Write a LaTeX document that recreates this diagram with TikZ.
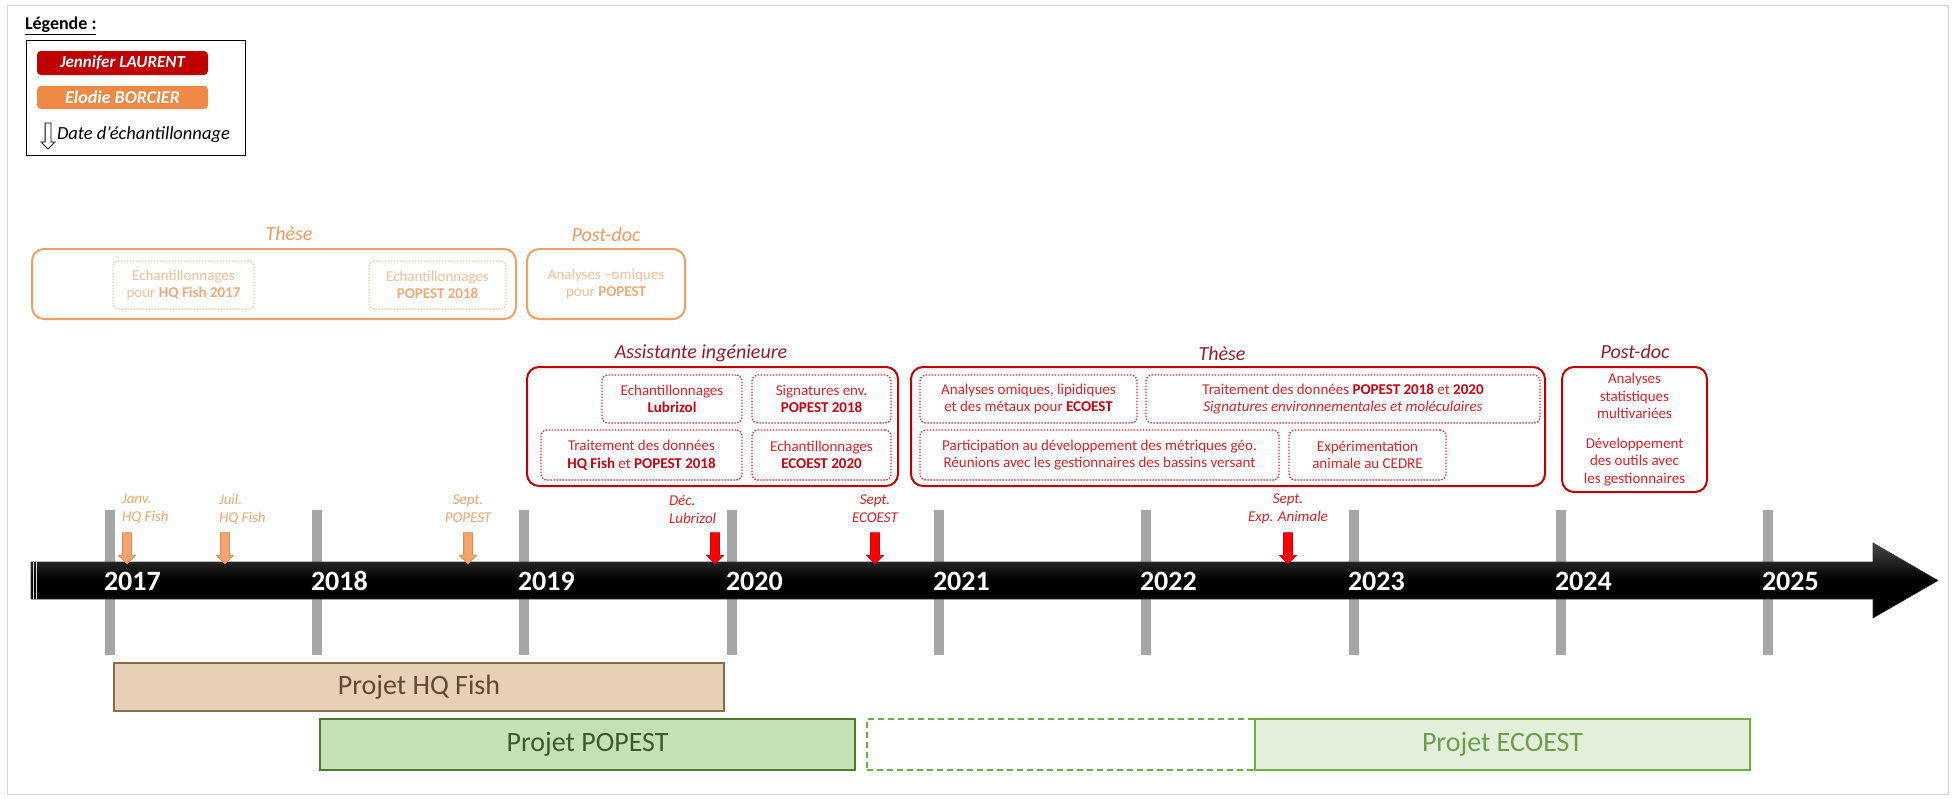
\documentclass[tikz,border=0pt]{standalone}
\usepackage{fontspec}
\setmainfont{Carlito}
\usetikzlibrary{shapes.arrows}
\definecolor{jred}{HTML}{C00000}
\definecolor{jlabel}{HTML}{9C1A2A}
\definecolor{jtext}{HTML}{E32028}
\definecolor{jbold}{HTML}{D00010}
\definecolor{jdot}{HTML}{E03040}
\definecolor{eorange}{HTML}{EE8A45}
\definecolor{olabel}{HTML}{EF9A62}
\definecolor{oborder}{HTML}{F0A066}
\definecolor{otext}{HTML}{F6BE96}
\definecolor{obold}{HTML}{F2A877}
\definecolor{odot}{HTML}{F6C6A2}
\definecolor{sorange}{HTML}{F4A46C}
\definecolor{sorangedark}{HTML}{E48C52}
\definecolor{sred}{HTML}{E41E26}
\definecolor{hqfill}{HTML}{E7D0B6}
\definecolor{hqdraw}{HTML}{8B6B45}
\definecolor{hqtext}{HTML}{5E4A36}
\definecolor{popfill}{HTML}{C5E0B4}
\definecolor{popdraw}{HTML}{4F7A30}
\definecolor{poptext}{HTML}{3C5A2A}
\definecolor{ecofill}{HTML}{E2EFDA}
\definecolor{ecodraw}{HTML}{70AD47}
\definecolor{ecotext}{HTML}{6E9E4A}
\definecolor{tickgray}{HTML}{A6A6A6}
\definecolor{framegray}{HTML}{D9D9D9}
\newcommand\myfs[2]{\fontsize{#1}{#2}\selectfont}
\begin{document}
\begin{tikzpicture}[x=1pt,y=-1pt,
  every node/.style={inner sep=0pt, outer sep=0pt},
  box/.style={rectangle, align=center},
  legname/.style={box, rounded corners=4, text=white, font=\myfs{18}{20}\bfseries\itshape},
  oouter/.style={box, draw=oborder, line width=2, rounded corners=12},
  oinner/.style={box, draw=odot, line width=1.2, dash pattern=on 1.5pt off 1.5pt, rounded corners=6, text=otext, font=\myfs{15}{17.5}},
  olab/.style={text=olabel, font=\myfs{20}{22}\itshape},
  router/.style={box, draw=jred, line width=2, rounded corners=12},
  rinner/.style={box, draw=jdot, line width=1.3, dash pattern=on 1.5pt off 1.5pt, rounded corners=6, text=jtext, font=\myfs{15}{17.5}},
  rlab/.style={text=jlabel, font=\myfs{20}{22}\itshape},
  tickbar/.style={rectangle, fill=tickgray, minimum width=10, minimum height=145},
  year/.style={anchor=west, text=white, font=\myfs{28}{30}\bfseries},
  samp/.style={single arrow, shape border rotate=270, minimum height=31, minimum width=16,
    inner sep=4, single arrow head extend=4, single arrow head indent=0, line width=0.8},
  osamp/.style={samp, fill=sorange, draw=sorangedark},
  rsamp/.style={samp, fill=red, draw=jbold},
  oslab/.style={text=sorange, font=\myfs{15}{18}\itshape},
  rslab/.style={text=sred, font=\myfs{15}{18}\itshape},
  proj/.style={rectangle, line width=1.8, font=\myfs{28}{30}}
]
\useasboundingbox (0,0) rectangle (1959,798);
\draw[framegray, line width=1] (7,5) rectangle (1948,794);

% Legend
\node[anchor=west, font=\myfs{18}{20}\bfseries] (legtitle) at (25,26) {\underline{Légende :}};
\node[box, draw=black, line width=1, minimum width=219, minimum height=115] (legbox) at (135.5,97.5) {};
\node[legname, fill=jred, minimum width=171, minimum height=24, font=\myfs{17}{20}\bfseries\itshape] (legjl) at (122.5,63) {Jennifer LAURENT};
\node[legname, fill=eorange, minimum width=171, minimum height=23] (legeb) at (122.5,97.5) {Elodie BORCIER};
\node[single arrow, shape border rotate=270, minimum height=26, minimum width=13, inner sep=2.5,
  single arrow head extend=4, single arrow head indent=0, draw=black, fill=white, line width=0.8] (legarrow) at (48,134.5) {};
\node[anchor=west, font=\myfs{18.5}{20}\itshape] (legdate) at (57,135) {Date d’échantillonnage};

% Orange section
\node[olab] (othlab) at (289,234) {Thèse};
\node[oouter, minimum width=484, minimum height=70] (oth) at (274,284) {};
\node[oinner, minimum width=141, minimum height=48] (oin1) at (183.5,285) {Echantillonnages\\pour \textcolor{obold}{\bfseries HQ Fish 2017}};
\node[oinner, minimum width=137, minimum height=48] (oin2) at (437.5,285) {Echantillonnages\\\textcolor{obold}{\bfseries POPEST 2018}};
\node[olab] (opdlab) at (606,235) {Post-doc};
\node[oouter, minimum width=158, minimum height=70, text=otext, font=\myfs{15}{17.5}] (opd) at (606,284) {Analyses –omiques\\pour \textcolor{obold}{\bfseries POPEST}};

% Assistante ingenieure
\node[rlab] (ailab) at (701,353) {Assistante ingénieure};
\node[router, minimum width=371, minimum height=119] (ai) at (712.5,426.5) {};
\node[rinner, minimum width=140, minimum height=48] (a1) at (672,399) {Echantillonnages\\\textcolor{jbold}{\bfseries Lubrizol}};
\node[rinner, minimum width=139, minimum height=48] (a2) at (821.5,399) {Signatures env.\\\textcolor{jbold}{\bfseries POPEST 2018}};
\node[rinner, minimum width=201, minimum height=50] (a3) at (641.5,455) {Traitement des données\\\textcolor{jbold}{\bfseries HQ Fish} et \textcolor{jbold}{\bfseries POPEST 2018}};
\node[rinner, minimum width=139, minimum height=50] (a4) at (821.5,455) {Echantillonnages\\\textcolor{jbold}{\bfseries ECOEST 2020}};

% These (red)
\node[rlab] (rthlab) at (1222,354) {Thèse};
\node[router, minimum width=634, minimum height=119] (rth) at (1228,426.5) {};
\node[rinner, minimum width=217, minimum height=48] (t1) at (1028.5,399) {Analyses omiques, lipidiques\\et des métaux pour \textcolor{jbold}{\bfseries ECOEST}};
\node[rinner, minimum width=394, minimum height=48] (t2) at (1343,399) {Traitement des données \textcolor{jbold}{\bfseries POPEST 2018} et \textcolor{jbold}{\bfseries 2020}\\\itshape Signatures environnementales et moléculaires};
\node[rinner, minimum width=359, minimum height=50] (t3) at (1099.5,455) {Participation au développement des métriques géo.\\Réunions avec les gestionnaires des bassins versant};
\node[rinner, minimum width=157, minimum height=50] (t4) at (1367.5,455) {Expérimentation\\animale au CEDRE};

% Post-doc (red)
\node[rlab] (rpdlab) at (1635,352) {Post-doc};
\node[router, minimum width=145, minimum height=125, text=jtext, font=\myfs{15}{17.5}] (rpd) at (1634.5,429.5) {Analyses\\statistiques\\multivariées\\[12pt]Développement\\des outils avec\\les gestionnaires};

% Ticks
\foreach \yr/\xx in {2017/110,2018/317,2019/524,2020/732,2021/939,2022/1146,2023/1354,2024/1561,2025/1768}{
  \node[tickbar] (tick\yr) at (\xx,582.5) {};
}

% Timeline arrow
\path[top color=black!72, bottom color=black, middle color=black, draw=black!80, line width=0.6]
  (31,562) -- (1873,562) -- (1873,543) -- (1938,580.5) -- (1873,618) -- (1873,599) -- (31,599) -- cycle;
\draw[white!85!black, line width=0.8] (33.5,562) -- (33.5,599);
\draw[white!85!black, line width=0.8] (36.5,562) -- (36.5,599);

% Years
\foreach \yr/\xx in {2017/110,2018/317,2019/524,2020/732,2021/939,2022/1146,2023/1354,2024/1561,2025/1768}{
  \node[year] (y\yr) at (\xx-6,581) {\yr};
}

% Sampling dates
\node[osamp] (s1) at (127,546) {};
\node[osamp] (s2) at (225,546) {};
\node[osamp] (s3) at (468,546) {};
\node[rsamp] (s4) at (715,546) {};
\node[rsamp] (s5) at (875,546) {};
\node[rsamp] (s6) at (1288,546) {};
\node[oslab, anchor=west, align=left] (l1) at (122,509) {Janv.\\HQ Fish};
\node[oslab, anchor=west, align=left] (l2) at (219,509) {Juil.\\HQ Fish};
\node[oslab, align=center] (l3) at (468,509) {Sept.\\POPEST};
\node[rslab, anchor=west, align=left] (l4) at (669,509) {Déc.\\Lubrizol};
\node[rslab, align=center] (l5) at (875,509) {Sept.\\ECOEST};
\node[rslab, align=center] (l6) at (1288,509) {Sept.\\Exp. Animale};

% Projects
\node[proj, fill=hqfill, draw=hqdraw, text=hqtext, minimum width=610, minimum height=48] (phq) at (419,687) {Projet HQ Fish};
\node[proj, fill=popfill, draw=popdraw, text=poptext, minimum width=535, minimum height=51] (ppop) at (587.5,744.5) {Projet POPEST};
\node[proj, draw=ecodraw, dash pattern=on 6pt off 4pt, minimum width=388, minimum height=51] (pdash) at (1061,744.5) {};
\node[proj, fill=ecofill, draw=ecodraw, text=ecotext, minimum width=495, minimum height=51] (peco) at (1502.5,744.5) {Projet ECOEST};
\end{tikzpicture}
\end{document}
